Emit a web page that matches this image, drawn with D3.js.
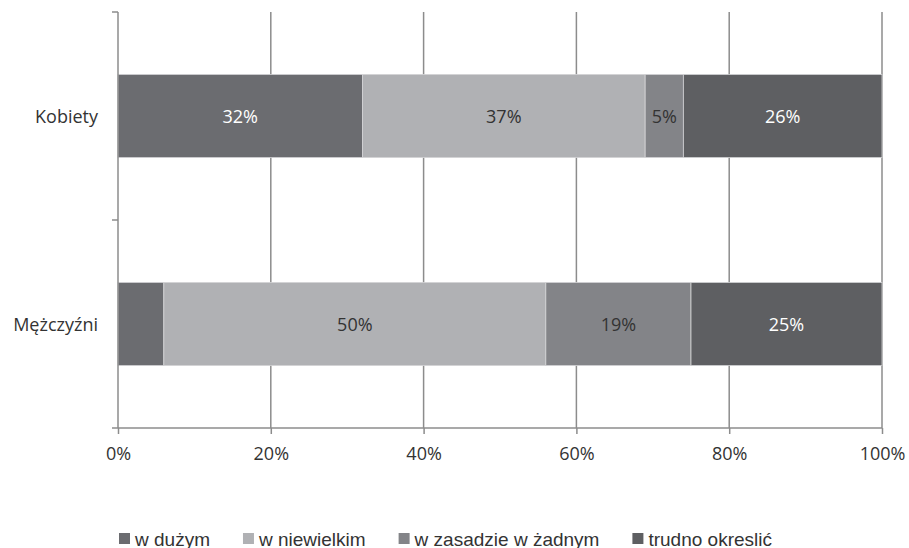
<!DOCTYPE html>
<html>
<head>
<meta charset="utf-8">
<script src="https://cdn.jsdelivr.net/npm/d3@7"></script>
<style>
  html, body { margin: 0; padding: 0; background: #fff; }
  svg { display: block; }
</style>
</head>
<body>
<div id="chart"></div>
<script>
// categories (top to bottom) and the answer series
const groups = ['Kobiety', 'Mężczyźni'];
const seriesNames = ['w dużym', 'w niewielkim', 'w zasadzie w żadnym', 'trudno okreslić'];
const seriesColors = ['#6b6c70', '#b0b1b4', '#838488', '#5e5f62'];
const labelColors = ['#ffffff', '#333333', '#333333', '#ffffff'];
// percent per group, in series order
const kobietyValues = [32, 37, 5, 26];
const mezczyzniValues = [6, 50, 19, 25];
const xTicks = [0, 20, 40, 60, 80, 100];

const width = 909;
const height = 548;
const margin = { top: 12, right: 26, bottom: 120, left: 118 };

const valuesByGroup = { 'Kobiety': kobietyValues, 'Mężczyźni': mezczyzniValues };

const svg = d3.select('#chart')
  .append('svg')
  .attr('width', width)
  .attr('height', height);

const x = d3.scaleLinear()
  .domain([0, 100])
  .range([margin.left, width - margin.right - 1]);

const y = d3.scaleBand()
  .domain(groups)
  .range([margin.top, height - margin.bottom])
  .paddingInner(0.6)
  .paddingOuter(0.3);

const axisColor = '#8c8c8c';
const fontFamily = '"Open Sans", "DejaVu Sans", sans-serif';

// vertical gridlines
svg.append('g')
  .selectAll('line')
  .data(xTicks.slice(1))
  .join('line')
  .attr('x1', (d) => x(d))
  .attr('x2', (d) => x(d))
  .attr('y1', margin.top)
  .attr('y2', height - margin.bottom)
  .attr('stroke', axisColor)
  .attr('stroke-width', 1.5);

// stacked segments
const stacked = groups.map((g) => {
  let acc = 0;
  return valuesByGroup[g].map((v, i) => {
    const seg = { group: g, i, value: v, x0: acc, x1: acc + v };
    acc += v;
    return seg;
  });
});
const segments = stacked.flat();

svg.append('g')
  .selectAll('rect')
  .data(segments)
  .join('rect')
  .attr('x', (d) => x(d.x0))
  .attr('y', (d) => y(d.group))
  .attr('width', (d) => x(d.x1) - x(d.x0))
  .attr('height', y.bandwidth())
  .attr('fill', (d) => seriesColors[d.i])
  .attr('stroke', '#d4d4d6')
  .attr('stroke-width', 0.8);

// value labels (skip segments too narrow)
svg.append('g')
  .selectAll('text')
  .data(segments.filter((d) => d.value >= 5 && !(d.group === 'Mężczyźni' && d.i === 0)))
  .join('text')
  .attr('x', (d) => x((d.x0 + d.x1) / 2))
  .attr('y', (d) => y(d.group) + y.bandwidth() / 2)
  .attr('text-anchor', 'middle')
  .attr('dominant-baseline', 'central')
  .attr('font-family', fontFamily)
  .attr('font-size', 18)
  .attr('fill', (d) => labelColors[d.i])
  .text((d) => d.value + '%');

// y axis
const yAxis = svg.append('g');
yAxis.append('line')
  .attr('x1', margin.left).attr('x2', margin.left)
  .attr('y1', margin.top).attr('y2', height - margin.bottom)
  .attr('stroke', axisColor).attr('stroke-width', 1.5);
// band boundary ticks
const boundaries = [margin.top, (y('Kobiety') + y.bandwidth() + y('Mężczyźni')) / 2];
yAxis.selectAll('.btick')
  .data(boundaries)
  .join('line')
  .attr('x1', margin.left - 6).attr('x2', margin.left)
  .attr('y1', (d) => d).attr('y2', (d) => d)
  .attr('stroke', axisColor).attr('stroke-width', 1.5);
yAxis.selectAll('text')
  .data(groups)
  .join('text')
  .attr('x', margin.left - 20)
  .attr('y', (d) => y(d) + y.bandwidth() / 2)
  .attr('text-anchor', 'end')
  .attr('dominant-baseline', 'central')
  .attr('font-family', fontFamily)
  .attr('font-size', 18)
  .attr('fill', '#333')
  .text((d) => d);

// x axis
const xAxis = svg.append('g')
  .attr('transform', `translate(0,${height - margin.bottom})`)
  .call(d3.axisBottom(x).tickValues(xTicks).tickSize(6).tickSizeOuter(0).tickFormat((d) => d + '%'));
xAxis.select('.domain').remove();
xAxis.insert('line', ':first-child')
  .attr('x1', margin.left - 6).attr('x2', x(100))
  .attr('stroke', axisColor).attr('stroke-width', 1.5);
xAxis.selectAll('.tick line').attr('stroke', axisColor).attr('stroke-width', 1.5);
xAxis.selectAll('.tick text')
  .attr('font-family', fontFamily)
  .attr('font-size', 18)
  .attr('fill', '#333')
  .attr('dy', null)
  .attr('y', 32);

// legend
const legend = svg.append('g').attr('transform', 'translate(119,538.5)');
let lx = 0;
seriesNames.forEach((name, i) => {
  const item = legend.append('g').attr('transform', `translate(${lx},0)`);
  item.append('rect')
    .attr('x', 0).attr('y', -5.5)
    .attr('width', 11).attr('height', 11)
    .attr('fill', seriesColors[i]);
  const t = item.append('text')
    .attr('x', 16)
    .attr('y', 7)
    .attr('font-family', '"Liberation Sans", Arial, sans-serif')
    .attr('font-size', 19)
    .attr('fill', '#333')
    .text(name);
  lx += 16 + t.node().getComputedTextLength() + 33;
});
</script>
</body>
</html>
